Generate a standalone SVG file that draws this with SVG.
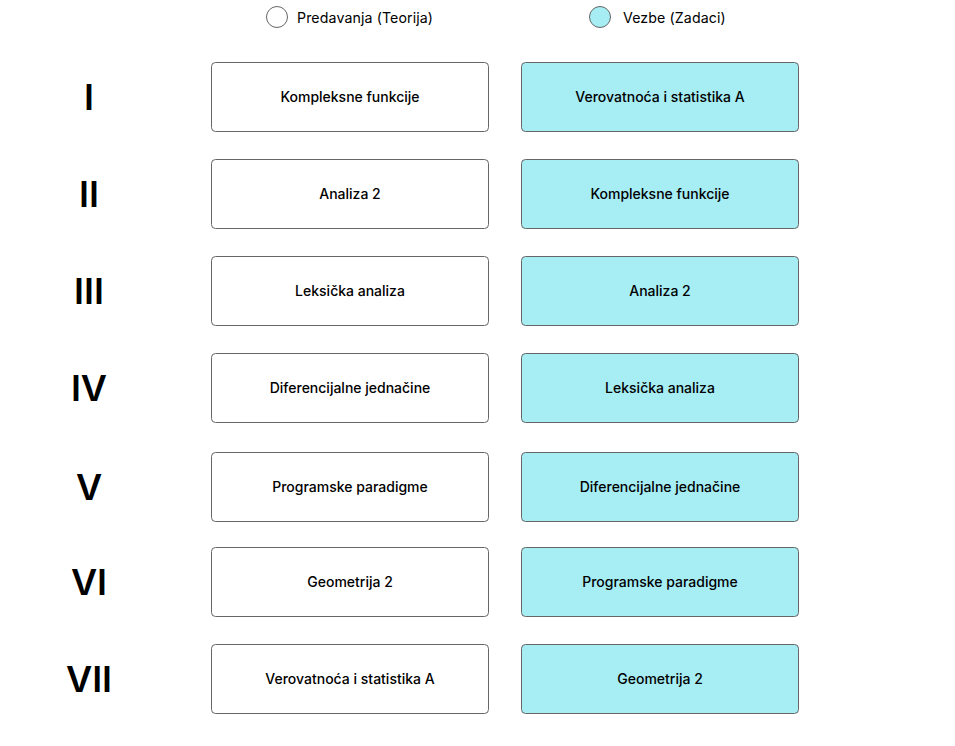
<svg xmlns="http://www.w3.org/2000/svg" width="955" height="746" viewBox="0 0 955 746">
<style>
text{font-family:Inter,"Noto Sans","Liberation Sans",sans-serif;fill:#000}
.lec{fill:#ffffff;stroke:#666;stroke-width:1}
.ex{fill:#a6edf4;stroke:#666;stroke-width:1}
.lbl{font-size:14px;font-weight:500;text-anchor:middle;dominant-baseline:central}
.num{font-size:36px;font-weight:600;text-anchor:middle}
.leg{font-size:14.2px;dominant-baseline:central;letter-spacing:0.1px}
</style>
<rect width="955" height="746" fill="#fff"/>
<g id="legend">
<circle cx="277" cy="17" r="10.5" class="lec"/>
<text x="297" y="17" class="leg">Predavanja (Teorija)</text>
<circle cx="600" cy="17" r="10.5" class="ex"/>
<text x="623" y="17" class="leg">Vezbe (Zadaci)</text>
</g>
<g id="numerals">
<text x="89" y="110" class="num">I</text>
<text x="89" y="207" class="num">II</text>
<text x="89" y="304" class="num">III</text>
<text x="89" y="401" class="num">IV</text>
<text x="89" y="500" class="num">V</text>
<text x="89" y="595" class="num">VI</text>
<text x="89" y="692" class="num">VII</text>
</g>
<g id="connectors"></g>
<g id="l1"><rect x="211.5" y="62.5" width="277" height="69" rx="4" class="lec"/><text x="350" y="96.5" class="lbl">Kompleksne funkcije</text></g>
<g id="e1"><rect x="521.5" y="62.5" width="277" height="69" rx="4" class="ex"/><text x="660" y="96.5" class="lbl">Verovatnoća i statistika A</text></g>
<g id="l2"><rect x="211.5" y="159.5" width="277" height="69" rx="4" class="lec"/><text x="350" y="193.5" class="lbl">Analiza 2</text></g>
<g id="e2"><rect x="521.5" y="159.5" width="277" height="69" rx="4" class="ex"/><text x="660" y="193.5" class="lbl">Kompleksne funkcije</text></g>
<g id="l3"><rect x="211.5" y="256.5" width="277" height="69" rx="4" class="lec"/><text x="350" y="290.5" class="lbl">Leksička analiza</text></g>
<g id="e3"><rect x="521.5" y="256.5" width="277" height="69" rx="4" class="ex"/><text x="660" y="290.5" class="lbl">Analiza 2</text></g>
<g id="l4"><rect x="211.5" y="353.5" width="277" height="69" rx="4" class="lec"/><text x="350" y="387.5" class="lbl">Diferencijalne jednačine</text></g>
<g id="e4"><rect x="521.5" y="353.5" width="277" height="69" rx="4" class="ex"/><text x="660" y="387.5" class="lbl">Leksička analiza</text></g>
<g id="l5"><rect x="211.5" y="452.5" width="277" height="69" rx="4" class="lec"/><text x="350" y="486.5" class="lbl">Programske paradigme</text></g>
<g id="e5"><rect x="521.5" y="452.5" width="277" height="69" rx="4" class="ex"/><text x="660" y="486.5" class="lbl">Diferencijalne jednačine</text></g>
<g id="l6"><rect x="211.5" y="547.5" width="277" height="69" rx="4" class="lec"/><text x="350" y="581.5" class="lbl">Geometrija 2</text></g>
<g id="e6"><rect x="521.5" y="547.5" width="277" height="69" rx="4" class="ex"/><text x="660" y="581.5" class="lbl">Programske paradigme</text></g>
<g id="l7"><rect x="211.5" y="644.5" width="277" height="69" rx="4" class="lec"/><text x="350" y="678.5" class="lbl">Verovatnoća i statistika A</text></g>
<g id="e7"><rect x="521.5" y="644.5" width="277" height="69" rx="4" class="ex"/><text x="660" y="678.5" class="lbl">Geometrija 2</text></g>
</svg>
